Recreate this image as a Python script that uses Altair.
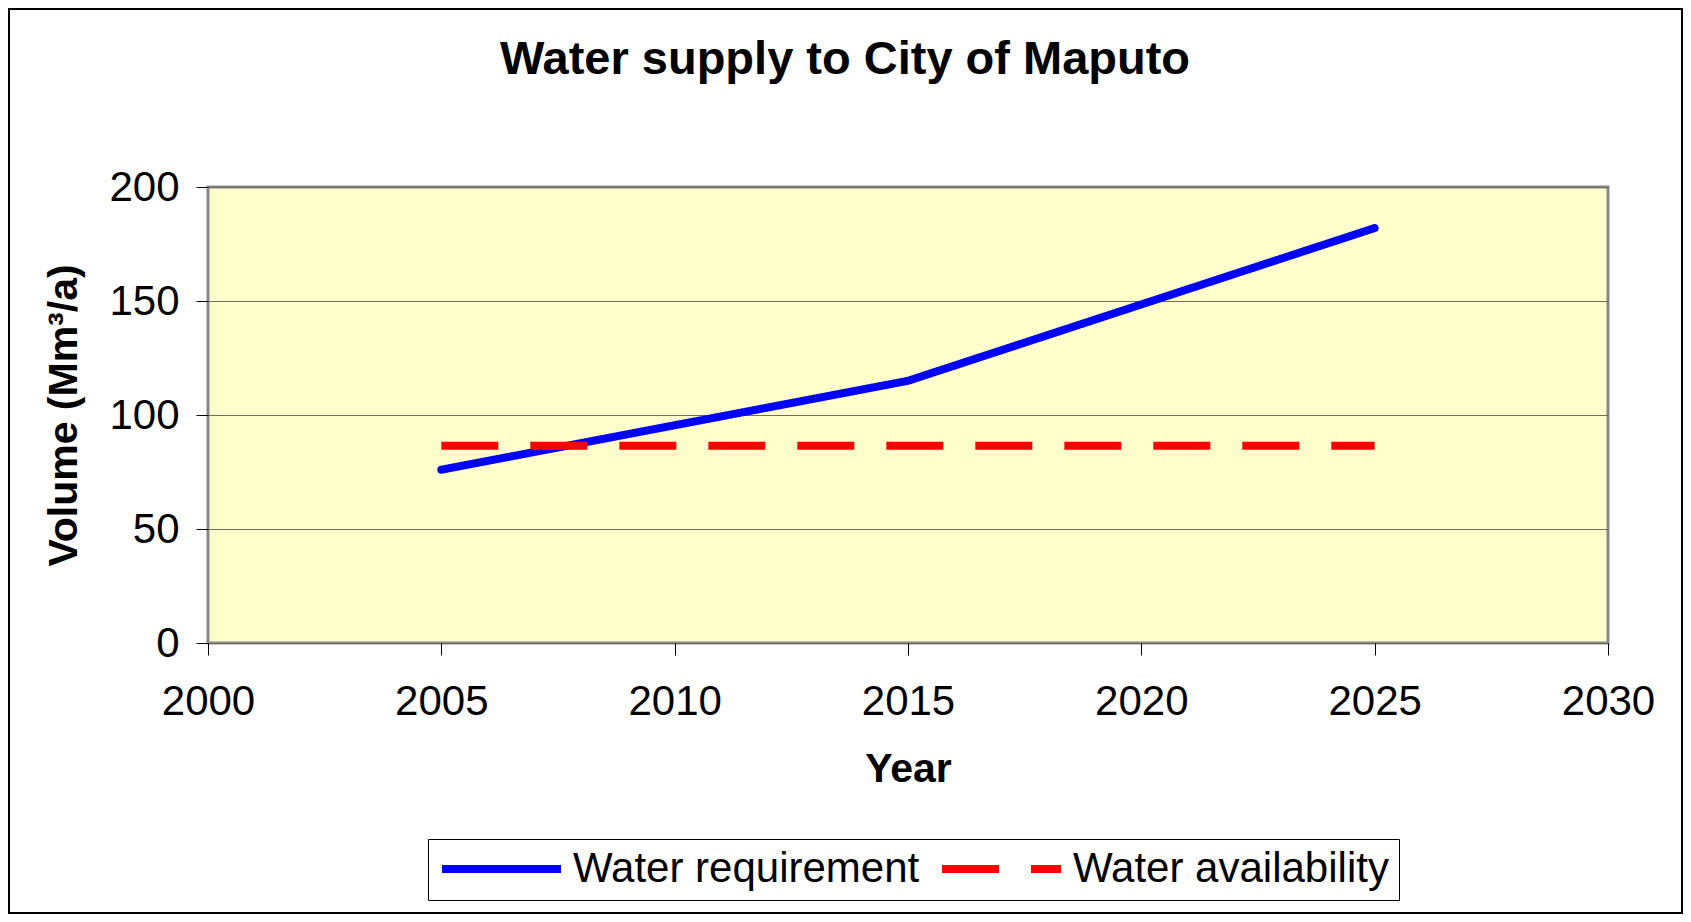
import altair as alt
import pandas as pd

# ---- data ----
series = ["Water requirement", "Water availability"]
colors = ["#0000FF", "#FF0000"]
years_req = [2005, 2015, 2025]
water_req = [76, 115, 182]
years_avail = [2005, 2025]
water_avail = [86.5, 86.5]
x_ticks = [2000, 2005, 2010, 2015, 2020, 2025, 2030]
y_ticks = [0, 50, 100, 150, 200]

df = pd.DataFrame({
    "Year": years_req + years_avail,
    "Volume": water_req + water_avail,
    "Series": [series[0]] * len(years_req) + [series[1]] * len(years_avail),
})

FONT = "Liberation Sans"
W, H = 1400, 456
PL, PT, PR, PB = 200, 179, 75, 271

legend = alt.Legend(
    title=None, orient="none", legendX=220, legendY=652, direction="horizontal",
    symbolType="stroke", symbolSize=14161, symbolStrokeWidth=8, clipHeight=40,
    labelFont=FONT, labelFontSize=42, labelColor="black", labelLimit=0,
    labelOffset=8, columnPadding=18, padding=10,
    strokeColor="black", fillColor="white", cornerRadius=0,
)

x = alt.X("Year:Q",
          scale=alt.Scale(domain=[2000, 2030], nice=False, zero=False),
          axis=alt.Axis(values=x_ticks, format="d", title="Year", grid=False,
                        labelFlush=False, labelPadding=26, titlePadding=27))
y = alt.Y("Volume:Q",
          scale=alt.Scale(domain=[0, 200], nice=False),
          axis=alt.Axis(values=y_ticks, title="Volume (Mm³/a)", grid=True,
                        labelFlush=False, labelPadding=17, titlePadding=23))
color = alt.Color("Series:N", scale=alt.Scale(domain=series, range=colors), legend=legend)
dash = alt.StrokeDash("Series:N", scale=alt.Scale(domain=series, range=[[1, 0], [57, 32]]), legend=legend)

base = alt.Chart(df).encode(x=x, y=y, color=color, strokeDash=dash)

req_line = base.transform_filter(alt.datum.Series == series[0]).mark_line(
    strokeWidth=8, strokeCap="round", strokeJoin="round")
avail_line = base.transform_filter(alt.datum.Series == series[1]).mark_line(
    strokeWidth=8, strokeCap="butt")

frame = alt.Chart(pd.DataFrame({"f": [0]})).mark_rect(
    filled=False, stroke="black", strokeWidth=2).encode(
    x=alt.value(-PL + 1), x2=alt.value(W + PR - 1),
    y=alt.value(-PT + 1), y2=alt.value(H + PB - 1))

chart = alt.layer(req_line, avail_line, frame).properties(
    width=W, height=H,
    padding={"left": PL, "top": PT, "right": PR, "bottom": PB},
    autosize=alt.AutoSizeParams(type="none"),
    title=alt.TitleParams("Water supply to City of Maputo", font=FONT, fontSize=47,
                          fontWeight="bold", color="black", anchor="middle",
                          dx=-63, offset=-76),
    background="white",
).configure_view(
    fill="#FFFFCC", stroke="#888888", strokeWidth=3,
).configure_axis(
    labelFont=FONT, labelFontSize=42, labelColor="black",
    titleFont=FONT, titleFontSize=41, titleFontWeight="bold", titleColor="black",
    tickColor="black", tickSize=12, tickWidth=1, domain=False,
    gridColor="#6e6e60", gridWidth=1,
)

chart.save("out.html", embed_options={"renderer": "svg", "actions": False})
